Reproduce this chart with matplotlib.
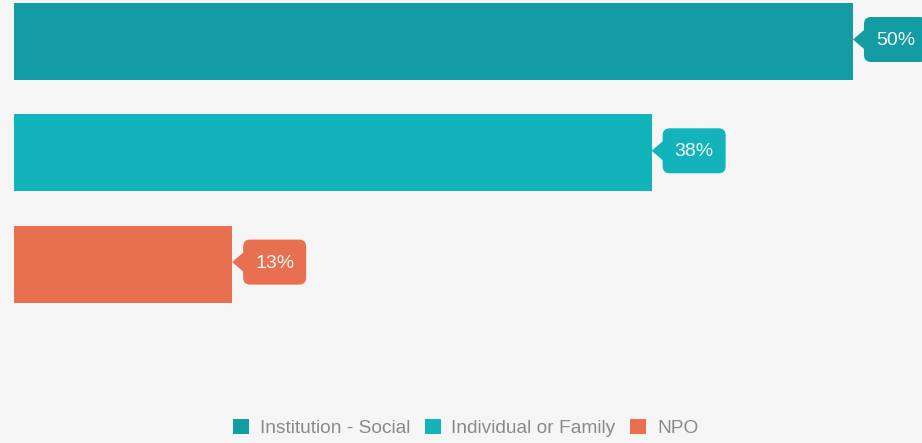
import matplotlib
matplotlib.use("Agg")
import matplotlib.pyplot as plt
from matplotlib.patches import Polygon, FancyBboxPatch, Rectangle

categories = ["Institution - Social", "Individual or Family", "NPO"]
values = [50, 38, 13]
labels = ["50%", "38%", "13%"]
colors = ["#139ca3", "#13b3bc", "#e86f4f"]
bg = "#f5f5f5"

W, H, DPI = 922, 443, 100
plt.rcParams['font.family'] = ['Liberation Sans', 'DejaVu Sans']
fig = plt.figure(figsize=(W / DPI, H / DPI), dpi=DPI, facecolor=bg)
ax = fig.add_axes([0, 0, 1, 1])
ax.set_facecolor(bg)

px_per_unit = (853 - 14) / 50.0
ax.set_xlim(-14 / px_per_unit, (W - 14) / px_per_unit)
spacing = 111.3
ax.set_ylim((H - 41.5) / spacing, -41.5 / spacing)
ax.axis("off")

ypos = list(range(len(categories)))
ax.barh(ypos, values, height=77 / spacing, color=colors, edgecolor="none")

# callouts
fig.canvas.draw()
for i, (v, lab, c) in enumerate(zip(values, labels, colors)):
    x0, y0 = ax.transData.transform((v, i))
    yc = y0 + 2
    tip_x = x0
    base_x = x0 + 11
    tri = Polygon([[tip_x, yc], [base_x + 3, yc + 12], [base_x + 3, yc - 12]],
                  closed=True, transform=None, facecolor=c, edgecolor="none")
    fig.add_artist(tri)
    bw, bh = 63, 45
    box = FancyBboxPatch((base_x, yc - bh / 2), bw, bh,
                         boxstyle="round,pad=0,rounding_size=7",
                         transform=None, facecolor=c, edgecolor="none")
    fig.add_artist(box)
    fig.text((base_x + bw / 2) / W, (yc - 1) / H, lab, color="#eef8f8",
             fontsize=14, ha="center", va="center")

handles = [Rectangle((0, 0), 1, 1, facecolor=c, edgecolor="none") for c in colors]
leg = fig.legend(handles, categories, loc="center", bbox_to_anchor=(0.505, 1 - 428 / H),
                 ncol=3, frameon=False, handlelength=0.85, handleheight=0.85,
                 handletextpad=0.55, columnspacing=0.75,
                 prop={'family': ['Liberation Sans', 'DejaVu Sans'], 'size': 13.8})
for t in leg.get_texts():
    t.set_color("#8a8a8a")

fig.savefig("out.png", dpi=DPI, facecolor=bg)
